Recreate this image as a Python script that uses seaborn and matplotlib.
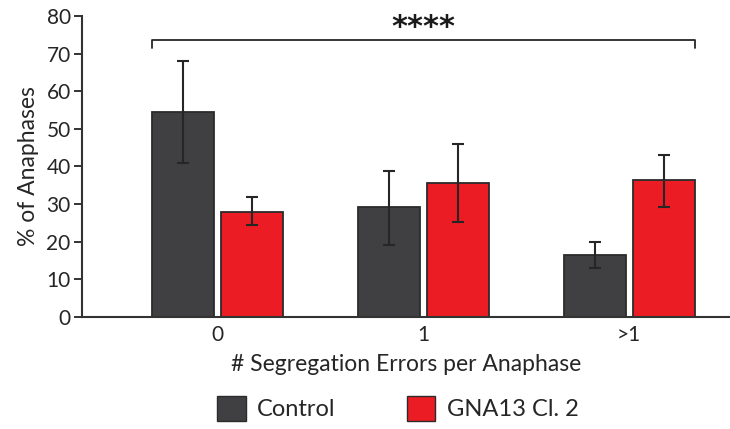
import matplotlib
matplotlib.use("Agg")
import matplotlib.pyplot as plt
import seaborn as sns
import pandas as pd
import numpy as np
from matplotlib.patches import Patch

# данные
categories = ["0", "1", ">1"]
groups = ["Control", "GNA13 Cl. 2"]
control_vals = [54.5, 29.3, 16.5]
control_lo = [41.0, 19.1, 13.0]
control_hi = [68.0, 38.8, 20.0]
gna13_vals = [28.0, 35.5, 36.4]
gna13_lo = [24.5, 25.3, 29.3]
gna13_hi = [32.0, 46.0, 43.0]

colors = {"Control": "#404042", "GNA13 Cl. 2": "#ec1c24"}
edge = "#2b2b2b"

df = pd.DataFrame({
    "errors": categories * 2,
    "group": [groups[0]] * 3 + [groups[1]] * 3,
    "value": control_vals + gna13_vals,
    "lo": control_lo + gna13_lo,
    "hi": control_hi + gna13_hi,
})

sns.set_theme(style="white")
plt.rcParams["font.family"] = ["Lato", "DejaVu Sans"]

fig = plt.figure(figsize=(7.3, 4.29), dpi=100)
ax = fig.add_axes([0.112, 0.261, 0.888, 0.702])

sns.barplot(data=df, x="errors", y="value", hue="group", order=categories,
            hue_order=groups, palette=colors, saturation=1, errorbar=None,
            width=0.67, gap=0.1, edgecolor=edge, linewidth=1.3, legend=False,
            ax=ax)

# планки погрешностей по центрам столбцов
bars = [p for p in ax.patches if p.get_height() > 0]
bars.sort(key=lambda p: p.get_x())
order_df = df.set_index(["errors", "group"])
keys = [(c, g) for c in categories for g in groups]
for p, k in zip(bars, keys):
    row = order_df.loc[k]
    xc = p.get_x() + p.get_width() / 2
    ax.errorbar(xc, row["value"],
                yerr=[[row["value"] - row["lo"]], [row["hi"] - row["value"]]],
                fmt="none", ecolor="#262626", elinewidth=1.5, capsize=4.5,
                capthick=1.5)

# скобка значимости
x_left = bars[0].get_x()
x_right = bars[-1].get_x() + bars[-1].get_width()
ax.plot([x_left, x_left, x_right, x_right], [71.5, 73.6, 73.6, 71.5],
        color="#262626", lw=1.3, clip_on=False)
ax.text((x_left + x_right) / 2, 73.0, "****", ha="center", va="bottom",
        fontsize=22, fontweight="bold", color="#1a1a1a",
        family=["DejaVu Sans"])

ax.set_ylim(0, 80)
ax.set_xlim(-0.66, 2.49)
ax.set_yticks(range(0, 81, 10))
ax.set_xlabel("# Segregation Errors per Anaphase", fontsize=16.5,
              color="#262626", labelpad=6)
ax.set_ylabel("% of Anaphases", fontsize=16.5, color="#262626", labelpad=5)
ax.tick_params(axis="y", length=6, width=1.4, color="#333333", labelsize=15,
               labelcolor="#262626", pad=2, left=True)
ax.tick_params(axis="x", length=0, labelsize=15, labelcolor="#262626", pad=6)

for s in ["top", "right"]:
    ax.spines[s].set_visible(False)
for s in ["left", "bottom"]:
    ax.spines[s].set_color("#333333")
    ax.spines[s].set_linewidth(1.5)

handles = [Patch(facecolor=colors[g], edgecolor=edge, linewidth=1.0) for g in groups]
fig.legend(handles, groups, loc="lower center", bbox_to_anchor=(0.545, -0.03),
           ncol=2, frameon=False, fontsize=17, handlelength=1.2, handleheight=1.2,
           columnspacing=3.0, handletextpad=0.5, labelcolor="#262626")

fig.savefig("out.png", dpi=100)
